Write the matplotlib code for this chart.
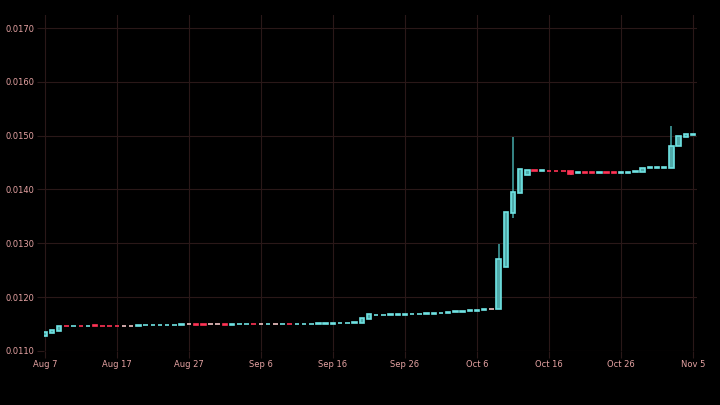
import pandas as pd
import matplotlib
matplotlib.use("Agg")
import matplotlib.pyplot as plt
from matplotlib import font_manager

# daily candles, Aug 7 .. Nov 5
dates = pd.date_range("2023-08-07", "2023-11-05", freq="D")

opens = [
    0.011270, 0.011330, 0.011370, 0.011470, 0.011462, 0.011468, 0.011464, 0.011472, 0.011470, 0.011470,
    0.011470, 0.011468, 0.011470, 0.011470, 0.011474, 0.011476, 0.011478, 0.011480, 0.011482, 0.011484,
    0.011490, 0.011494, 0.011494, 0.011490, 0.011490, 0.011494, 0.011488, 0.011490, 0.011490, 0.011498,
    0.011494, 0.011492, 0.011496, 0.011494, 0.011500, 0.011496, 0.011498, 0.011500, 0.011502, 0.011504,
    0.011506, 0.011508, 0.011512, 0.011516, 0.011522, 0.011600, 0.011664, 0.011666, 0.011668, 0.011670,
    0.011672, 0.011676, 0.011680, 0.011686, 0.011692, 0.011700, 0.011708, 0.011716, 0.011730, 0.011740,
    0.011748, 0.011756, 0.011776, 0.011775, 0.012566, 0.013569, 0.013941, 0.014275, 0.014352, 0.014346,
    0.014350, 0.014350, 0.014350, 0.014345, 0.014306, 0.014318, 0.014318, 0.014310, 0.014318, 0.014318,
    0.014312, 0.014314, 0.014322, 0.014331, 0.014400, 0.014402, 0.014404, 0.014394, 0.014803, 0.014975,
    0.015020,
]
closes = [
    0.011350, 0.011380, 0.011460, 0.011462, 0.011468, 0.011464, 0.011470, 0.011466, 0.011466, 0.011465,
    0.011466, 0.011468, 0.011470, 0.011476, 0.011478, 0.011480, 0.011482, 0.011484, 0.011486, 0.011490,
    0.011490, 0.011488, 0.011488, 0.011490, 0.011490, 0.011488, 0.011494, 0.011496, 0.011498, 0.011492,
    0.011494, 0.011498, 0.011496, 0.011500, 0.011494, 0.011502, 0.011504, 0.011506, 0.011508, 0.011510,
    0.011512, 0.011514, 0.011520, 0.011528, 0.011607, 0.011680, 0.011672, 0.011674, 0.011676, 0.011678,
    0.011680, 0.011684, 0.011690, 0.011696, 0.011708, 0.011712, 0.011724, 0.011740, 0.011748, 0.011756,
    0.011764, 0.011772, 0.011776, 0.012715, 0.013588, 0.013959, 0.014381, 0.014362, 0.014346, 0.014352,
    0.014342, 0.014342, 0.014340, 0.014282, 0.014316, 0.014310, 0.014310, 0.014316, 0.014310, 0.014310,
    0.014318, 0.014320, 0.014334, 0.014405, 0.014410, 0.014412, 0.014414, 0.014814, 0.014994, 0.015037,
    0.015036,
]
highs = [max(o, c) for o, c in zip(opens, closes)]
lows = [min(o, c) for o, c in zip(opens, closes)]
highs[63] = 0.012993
highs[65] = 0.014981
lows[65] = 0.013476
lows[73] = 0.014262
highs[87] = 0.015180

y_ticks = [0.011, 0.012, 0.013, 0.014, 0.015, 0.016, 0.017]
x_ticks = pd.date_range("2023-08-07", "2023-11-05", freq="10D")

BG = "#000000"
GRID = "#2a1818"
TEXT = "#e6a3a3"
UP_EDGE = "#6fe3e3"
UP_FILL = "#4fa9a9"
DOWN = "#ff3355"
FLAT = "#f2c4c4"
WICK = "#3f9c9c"

names = {f.name for f in font_manager.fontManager.ttflist}
family = "Liberation Sans Narrow" if "Liberation Sans Narrow" in names else "DejaVu Sans"
size = 7 if family == "Liberation Sans Narrow" else 6
plt.rcParams["font.family"] = [family, "DejaVu Sans"]

fig = plt.figure(figsize=(7.2, 4.05), dpi=100, facecolor=BG)
ax = fig.add_axes([0.061, 0.133, 0.907, 0.83], facecolor=BG)

width = 0.62
for d, o, h, l, c in zip(dates, opens, highs, lows, closes):
    if c > o:
        edge, fill = UP_EDGE, UP_FILL
    elif c < o:
        edge, fill = DOWN, DOWN
    else:
        edge, fill = FLAT, FLAT
    if h > max(o, c) or l < min(o, c):
        ax.vlines(d, l, h, color=WICK, linewidth=1.2, zorder=2)
    ax.bar(d, abs(c - o), width, bottom=min(o, c), color=fill,
           edgecolor=edge, linewidth=1.2, zorder=3)

ax.set_xlim(dates[0] - pd.Timedelta(hours=3), dates[-1] + pd.Timedelta(hours=13))
ax.set_ylim(0.010994, 0.017242)

ax.set_yticks(y_ticks)
ax.set_yticklabels([f"{v:.4f}" for v in y_ticks])
ax.set_xticks(x_ticks)
ax.set_xticklabels([f"{d:%b} {d.day}" for d in x_ticks])

ax.grid(True, color=GRID, linewidth=0.8, zorder=0)
ax.set_axisbelow(True)
ax.tick_params(colors=GRID, labelcolor=TEXT, labelsize=size, length=5.2, width=0.8, pad=1.5)
for s in ax.spines.values():
    s.set_visible(False)

fig.savefig("out.png", dpi=100, facecolor=BG)
